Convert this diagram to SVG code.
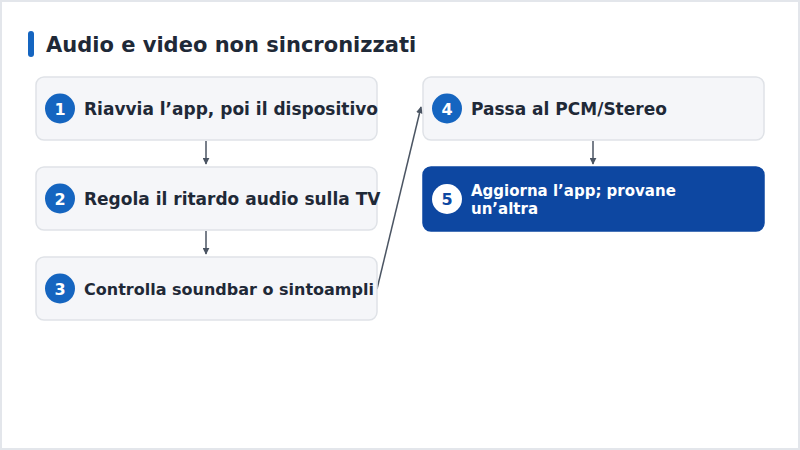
<svg xmlns="http://www.w3.org/2000/svg" width="800" height="450" viewBox="0 0 800 450">
<defs>
<style>
.node{fill:#f5f6f9;stroke:#dfe2e7;stroke-width:1.5}
.dark{fill:#0d47a1;stroke:#0d47a1;stroke-width:1.5}
.badge{fill:#1565c0}
.num{font-family:"DejaVu Sans",sans-serif;font-weight:bold;font-size:16px;fill:#ffffff;text-anchor:middle}
.lbl{font-family:"DejaVu Sans",sans-serif;font-weight:bold;font-size:17px;fill:#1f2937}
.conn{stroke:#4b5563;stroke-width:1.5;fill:none;marker-end:url(#arr)}
</style>
<marker id="arr" viewBox="0 0 10 10" refX="9" refY="5" markerWidth="7" markerHeight="7" markerUnits="userSpaceOnUse" orient="auto">
<path d="M0,0 L10,5 L0,10 z" fill="#4b5563"/>
</marker>
</defs>
<rect x="1" y="1" width="798" height="448" fill="#ffffff" stroke="#e3e6eb" stroke-width="2"/>
<rect x="28" y="31" width="6" height="26" rx="3" fill="#1565c0"/>
<text x="46" y="52" font-family="DejaVu Sans, sans-serif" font-weight="bold" font-size="21" fill="#1f2937">Audio e video non sincronizzati</text>
<g id="connectors">
<line class="conn" x1="206" y1="141" x2="206" y2="164"/>
<line class="conn" x1="206" y1="231" x2="206" y2="254"/>
<line class="conn" x1="377" y1="289" x2="421" y2="107"/>
<line class="conn" x1="593" y1="141" x2="593" y2="164"/>
</g>
<g id="node1">
<rect class="node" x="36" y="77" width="341" height="63" rx="8"/>
<circle class="badge" cx="60" cy="108.5" r="15"/>
<text class="num" x="60" y="114.5">1</text>
<text class="lbl" x="84" y="114.5">Riavvia l’app, poi il dispositivo</text>
</g>
<g id="node2">
<rect class="node" x="36" y="167" width="341" height="63" rx="8"/>
<circle class="badge" cx="60" cy="198.5" r="15"/>
<text class="num" x="60" y="204.5">2</text>
<text class="lbl" x="84" y="204.5">Regola il ritardo audio sulla TV</text>
</g>
<g id="node3">
<rect class="node" x="36" y="257" width="341" height="63" rx="8"/>
<circle class="badge" cx="60" cy="288.5" r="15"/>
<text class="num" x="60" y="294.5">3</text>
<text class="lbl" x="84" y="294.5" style="font-size:16px">Controlla soundbar o sintoampli</text>
</g>
<g id="node4">
<rect class="node" x="423" y="77" width="341" height="63" rx="8"/>
<circle class="badge" cx="447" cy="108.5" r="15"/>
<text class="num" x="447" y="114.5">4</text>
<text class="lbl" x="471" y="114.5">Passa al PCM/Stereo</text>
</g>
<g id="node5">
<rect class="dark" x="423" y="167" width="341" height="64" rx="8"/>
<circle cx="447" cy="199" r="15" fill="#ffffff"/>
<text class="num" x="447" y="204.5" style="fill:#0d47a1">5</text>
<text x="471" y="196" font-family="DejaVu Sans, sans-serif" font-weight="bold" font-size="15" fill="#ffffff">Aggiorna l’app; provane</text>
<text x="471" y="214" font-family="DejaVu Sans, sans-serif" font-weight="bold" font-size="15" fill="#ffffff">un’altra</text>
</g>
</svg>
